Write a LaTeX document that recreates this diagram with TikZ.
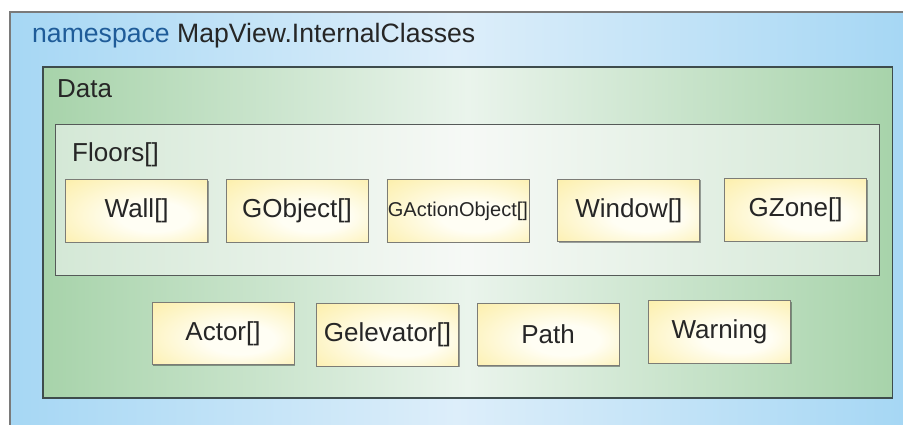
\documentclass[tikz,border=0pt]{standalone}
\usepackage{fontspec}
\setmainfont{Liberation Sans}
\usetikzlibrary{shadows}

\definecolor{nsedge}{HTML}{A6D7F4}
\definecolor{nsmid}{HTML}{DDEEFA}
\definecolor{nsframe}{HTML}{7A7A7A}
\definecolor{nsword}{HTML}{1F5C99}
\definecolor{grnedge}{HTML}{A7D3AA}
\definecolor{grnmid}{HTML}{EAF4EC}
\definecolor{dataframe}{HTML}{3E4C4C}
\definecolor{flredge}{HTML}{D4E8D6}
\definecolor{flrmid}{HTML}{F6F9F6}
\definecolor{flrframe}{HTML}{555A58}
\definecolor{glowin}{HTML}{FFFEF4}
\definecolor{glowout}{HTML}{FCEEA6}
\definecolor{boxedge}{HTML}{7C7C76}
\definecolor{ink}{HTML}{262626}

% soft yellow glow used for every class box
\pgfdeclareradialshading{classglow}{\pgfpoint{8bp}{-6bp}}{%
  color(0bp)=(glowin); color(12bp)=(glowin); color(40bp)=(glowout); color(50bp)=(glowout)}

\begin{document}
\begin{tikzpicture}[x=1pt,y=-1pt,
  lbl/.style={anchor=base west, inner sep=0pt, font=\fontsize{26}{30}\selectfont, text=ink},
  classbox/.style={draw=boxedge, line width=0.8pt, shading=classglow,
    minimum width=142pt, minimum height=62.5pt, inner sep=0pt,
    font=\fontsize{26}{30}\selectfont, text=ink,
    drop shadow={shadow xshift=1pt, shadow yshift=-1pt, fill=black, opacity=0.35}}]

\useasboundingbox (0,0) rectangle (903,425);

% namespace area
\shade[left color=nsedge, right color=nsedge, middle color=nsmid] (10,12) rectangle (903,425);
\draw[nsframe, line width=1.2pt] (10,425) -- (10,12) -- (903,12);

% Data container
\draw[dataframe, line width=1.2pt, left color=grnedge, right color=grnedge, middle color=grnmid]
  (43,67) rectangle (892.5,398);

% Floors[] container
\draw[flrframe, line width=1pt, left color=flredge, right color=flredge, middle color=flrmid]
  (55,125) rectangle (879,275);

% labels
\node[lbl, font=\fontsize{26.6}{30}\selectfont] (nslabel) at (32,43) {\textcolor{nsword}{namespace} MapView.InternalClasses};
\node[lbl] (datalabel) at (57,97.5) {Data};
\node[lbl] (floorslabel) at (72,162) {Floors[]};

% classes inside Floors[]
\node[classbox] (wall) at (136.7,211) {Wall[]};
\node[classbox] (gobject) at (297,211) {GObject[]};
\node[classbox, font=\fontsize{20}{24}\selectfont] (gaction) at (457.9,211) {GActionObject[]};
\node[classbox] (window) at (628.8,210.5) {Window[]};
\node[classbox] (gzone) at (795.6,210) {GZone[]};

% classes directly in Data
\node[classbox] (actor) at (223,333.5) {Actor[]};
\node[classbox] (gelevator) at (387.5,335) {Gelevator[]};
\node[classbox] (path) at (548,334.5) {Path};
\node[classbox] (warning) at (719.5,332) {Warning};

\end{tikzpicture}
\end{document}
